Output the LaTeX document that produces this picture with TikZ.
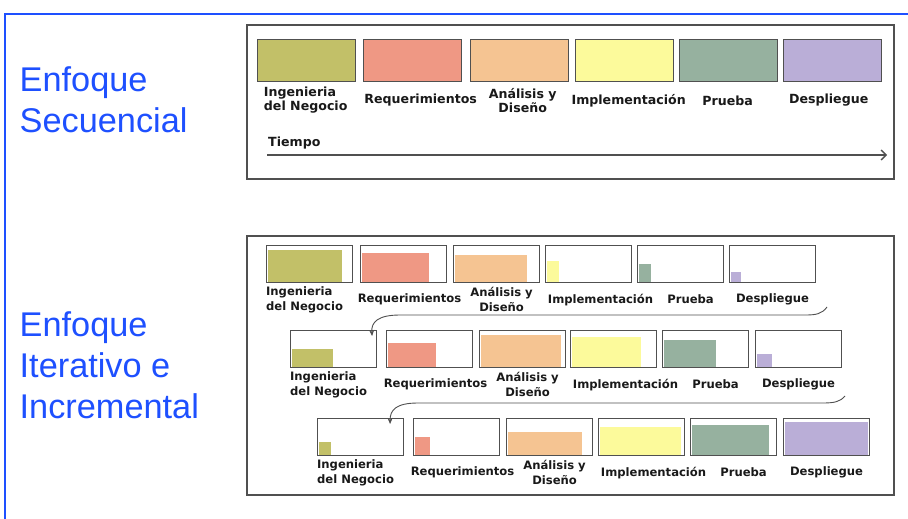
\documentclass[tikz,border=0pt]{standalone}
\usepackage{fontspec}
\setmainfont{Liberation Sans}
\newfontfamily\lblfont{DejaVu Sans}
\usetikzlibrary{arrows.meta,calc,positioning}

\definecolor{frameblue}{RGB}{30,80,255}
\definecolor{boxgray}{RGB}{80,80,80}
\definecolor{cIng}{RGB}{194,192,104}
\definecolor{cReq}{RGB}{239,152,132}
\definecolor{cAna}{RGB}{245,196,146}
\definecolor{cImp}{RGB}{252,250,155}
\definecolor{cPru}{RGB}{150,177,159}
\definecolor{cDes}{RGB}{186,174,215}

\begin{document}
\begin{tikzpicture}[x=1pt,y=-1pt,
  title/.style={text=frameblue, font=\fontsize{34.3}{41}\selectfont, align=left, inner sep=0pt, anchor=north west},
  panel/.style={draw=boxgray, line width=1.2pt},
  seqbox/.style={draw=boxgray, line width=1.4pt, anchor=north west, minimum width=98pt, minimum height=42pt, inner sep=0pt},
  itbox/.style={draw=boxgray, line width=1.1pt, anchor=north west, minimum width=86pt, minimum height=37pt, inner sep=0pt},
  seqlbl/.style={font=\lblfont\bfseries\fontsize{12.6}{14}\selectfont, text=black!90, inner sep=0pt},
  itlbl/.style={font=\lblfont\bfseries\fontsize{11.6}{15.5}\selectfont, text=black!90, inner sep=0pt},
  backloop/.style={draw=boxgray, line width=0.9pt, -{Stealth[length=6pt,width=5pt]}},
  timeline/.style={draw=boxgray, line width=1.3pt, -{Straight Barb[length=5pt,width=10pt]}}]
\useasboundingbox (0,0) rectangle (908,519);
\fill[white] (0,0) rectangle (908,519);

% blue frame and titles
\draw[frameblue, line width=2pt] (5,519) -- (5,14) -- (908,14);
\node[title] (seqtitle) at (19.5,66.7) {Enfoque\\Secuencial};
\node[title] (ittitle) at (19.5,311.7) {Enfoque\\Iterativo e\\Incremental};

% panels
\draw[panel] (247,25) rectangle (894,179);
\draw[panel] (247,236) rectangle (894,495);

% sequential phases
\foreach \b/\x/\col in {1/257/cIng, 2/363/cReq, 3/470/cAna, 4/575/cImp, 5/679/cPru, 6/783/cDes}
  \node[seqbox, fill=\col] (s-\b) at (\x,39) {};
\foreach \b/\txt/\aln/\dx in {1/{Ingenieria\\del Negocio}/left/-1, 2/Requerimientos/center/8,
    3/{Análisis y\\Diseño}/center/3, 4/Implementación/center/4, 5/Prueba/center/-1, 6/Despliegue/center/-4}
  \node[seqlbl, align=\aln] (sl-\b) at ($(s-\b.south)+(\dx,18)$) {\txt};

\node[seqlbl, anchor=west] (tiempo) at (268,143) {Tiempo};
\coordinate (t0) at (267,155);
\coordinate (t1) at (887,155);
\draw[timeline] (t0) -- (t1);

% iterative rows: box, then the finished part of each phase
\foreach \b/\x/\fw/\fh/\col in {1/266/74/32/cIng, 2/360/67/29/cReq, 3/453/72/27/cAna,
    4/545/12/21/cImp, 5/637/12/18/cPru, 6/729/10/10/cDes}{
  \node[itbox] (i1-\b) at (\x,245) {};
  \fill[\col] ($(i1-\b.south west)+(1.5,-1.5)$) rectangle ++(\fw,-\fh);
}
\foreach \b/\x/\fw/\fh/\col in {1/290/41/18/cIng, 2/386/48/24/cReq, 3/479/80/32/cAna,
    4/570/69/30/cImp, 5/662/52/27/cPru, 6/755/15/13/cDes}{
  \node[itbox] (i2-\b) at (\x,330) {};
  \fill[\col] ($(i2-\b.south west)+(1.5,-1.5)$) rectangle ++(\fw,-\fh);
}
\foreach \b/\x/\fw/\fh/\col in {1/317/12/13/cIng, 2/413/15/18/cReq, 3/506/74/23/cAna,
    4/598/81/28/cImp, 5/690/77/30/cPru, 6/783/83/33/cDes}{
  \node[itbox] (i3-\b) at (\x,418) {};
  \fill[\col] ($(i3-\b.south west)+(1.5,-1.5)$) rectangle ++(\fw,-\fh);
}
\foreach \r in {1,2,3}
  \foreach \b/\txt/\aln/\dx in {1/{Ingenieria\\del Negocio}/left/-5, 2/Requerimientos/center/6,
      3/{Análisis y\\Diseño}/center/5, 4/Implementación/center/12, 5/Prueba/center/10, 6/Despliegue/center/0}
    \node[itlbl, align=\aln] (l\r-\b) at ($(i\r-\b.south)+(\dx,16.5)$) {\txt};

% back to the start of the next iteration
\coordinate (back1) at (827,307);
\coordinate (back2) at (845,396);
\draw[backloop] (back1) .. controls (822,314) and (816,315) .. (805,315) -- (400,315)
  .. controls (378,315) and (371,322) .. ($(i2-1.north east)+(-5,6)$);
\draw[backloop] (back2) .. controls (840,402) and (834,403) .. (822,403) -- (418,403)
  .. controls (396,403) and (390,410) .. ($(i3-1.north east)+(-14,6)$);
\end{tikzpicture}
\end{document}
